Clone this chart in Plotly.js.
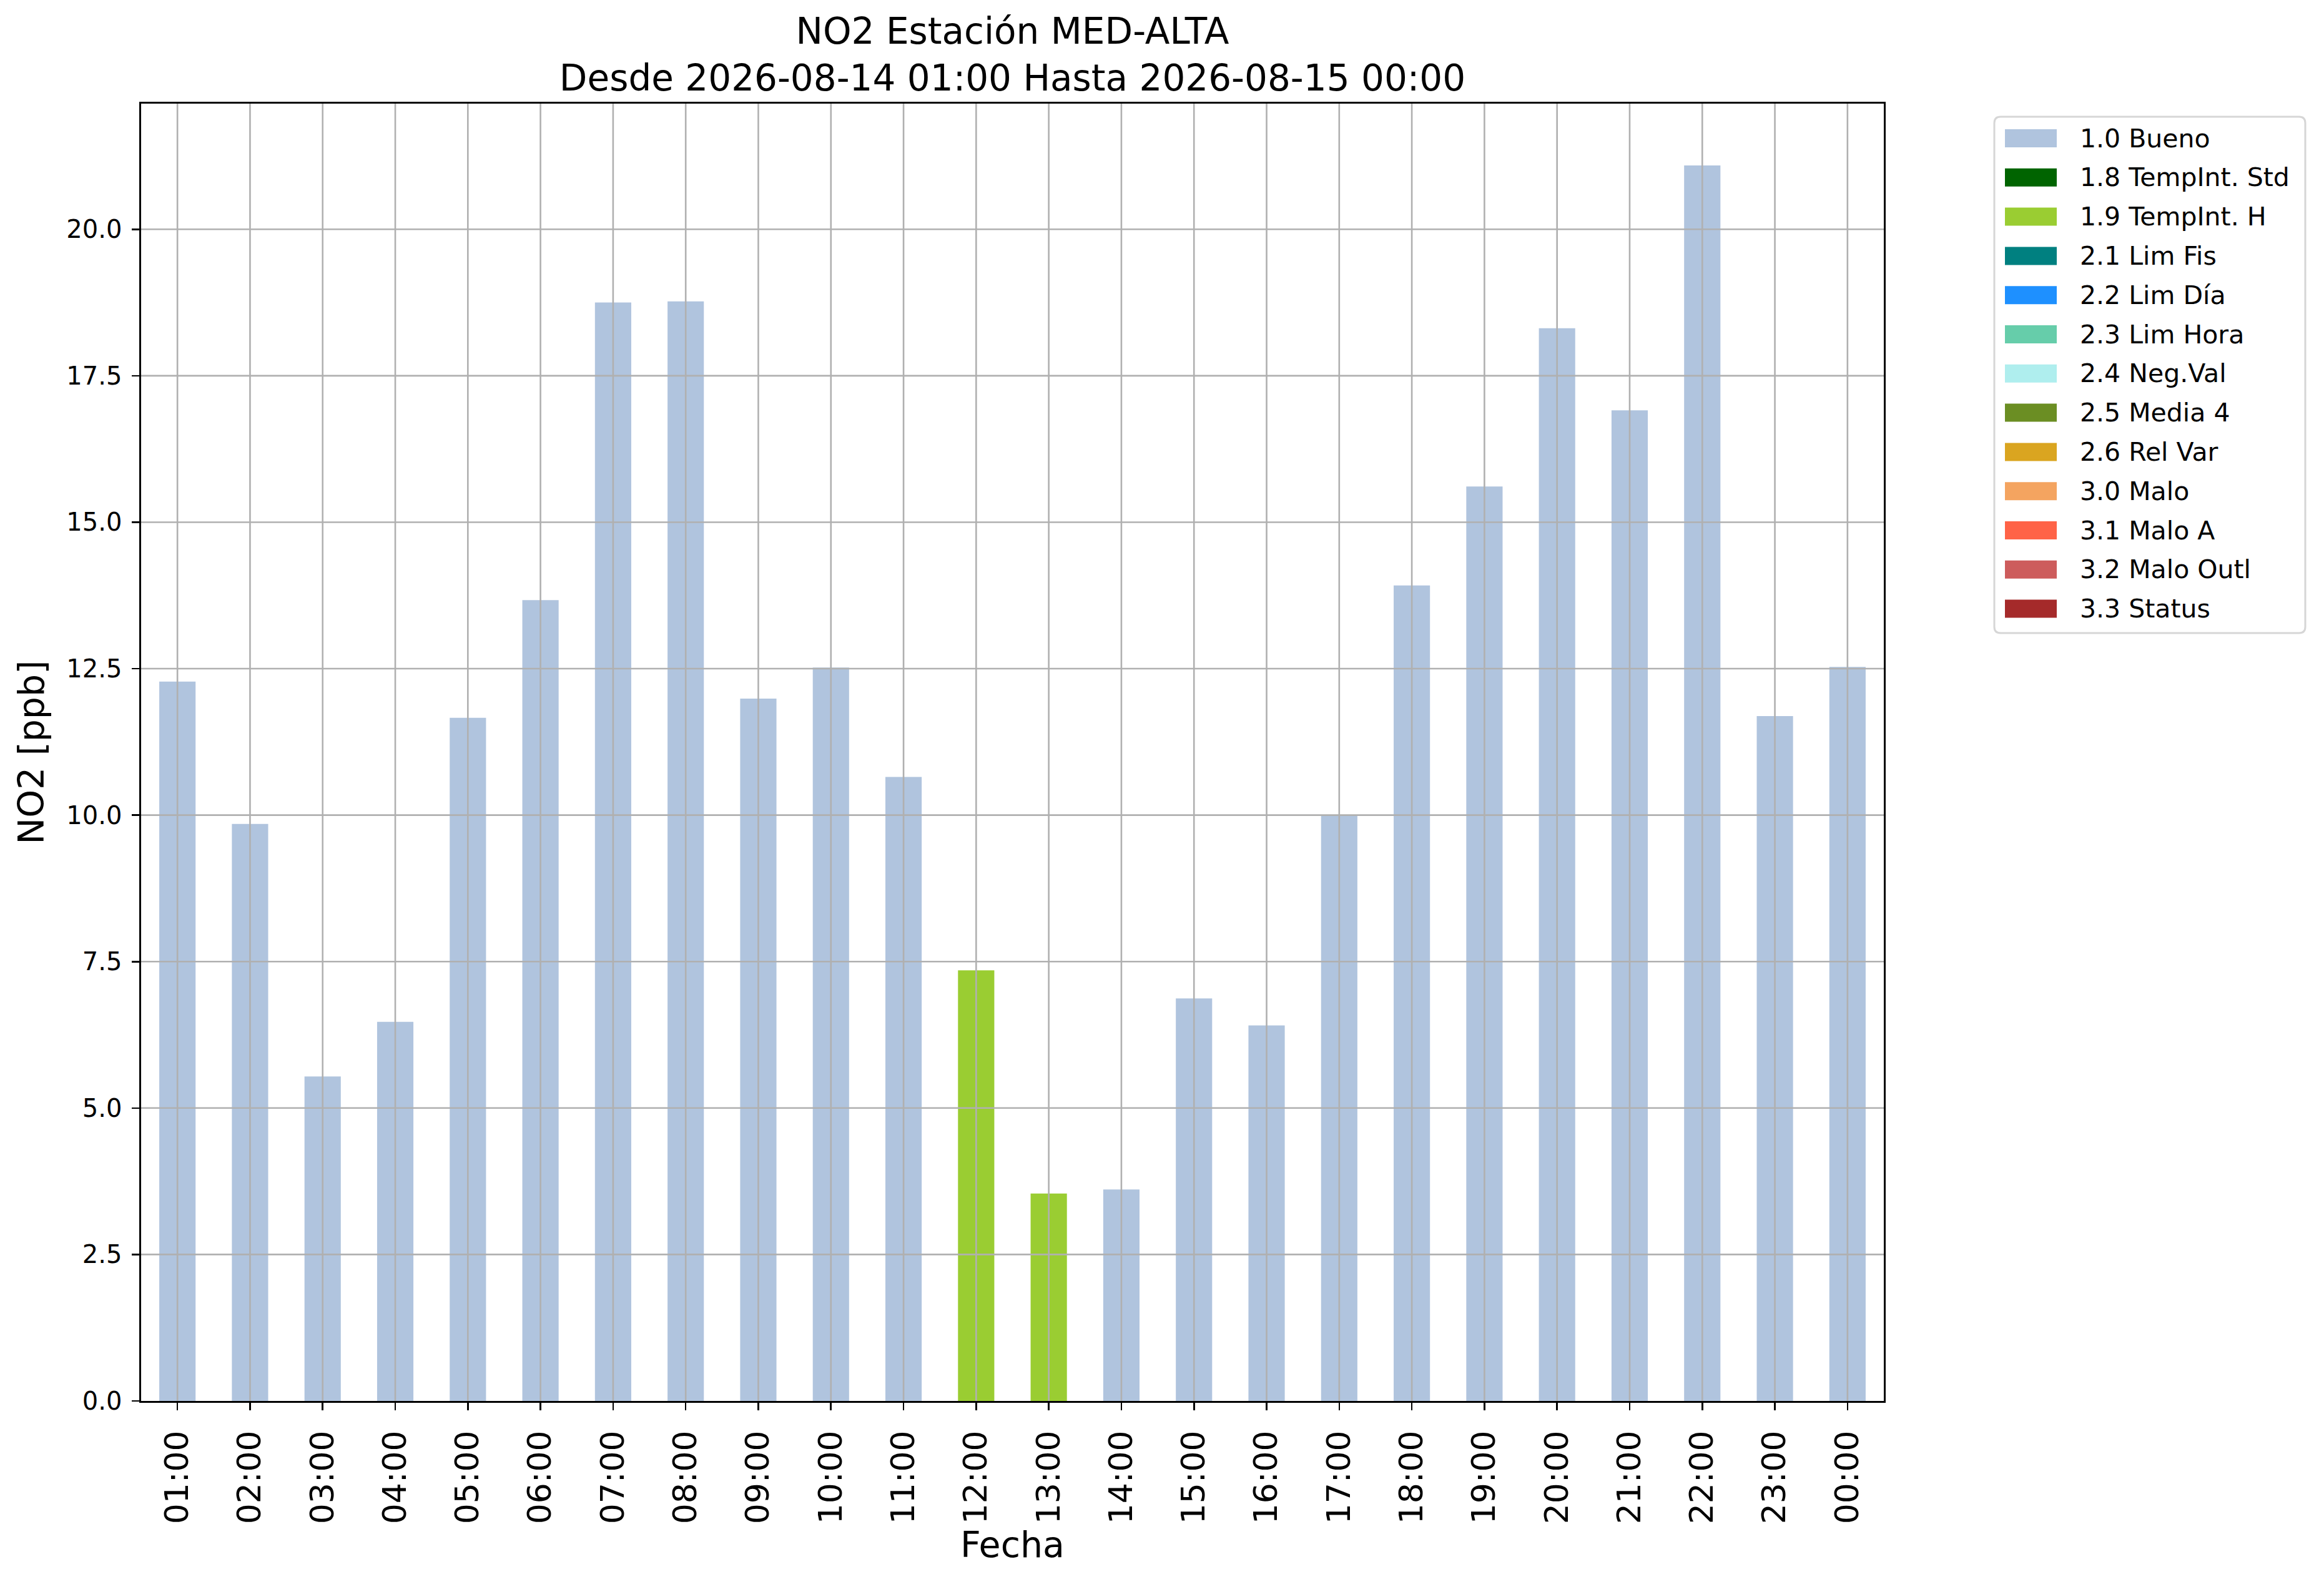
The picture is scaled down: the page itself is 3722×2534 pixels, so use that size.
<!DOCTYPE html>
<html>
<head>
<meta charset="utf-8">
<script src="https://cdn.plot.ly/plotly-3.0.1.min.js"></script>
<style>html,body{margin:0;padding:0;background:#fff;}#chart{width:3722px;height:2534px;}</style>
</head>
<body>
<div id="chart"></div>
<script>
// ---- data ----
const hours = ['01:00','02:00','03:00','04:00','05:00','06:00','07:00','08:00','09:00','10:00','11:00','12:00',
               '13:00','14:00','15:00','16:00','17:00','18:00','19:00','20:00','21:00','22:00','23:00','00:00'];
const no2Values = [12.28, 9.85, 5.54, 6.47, 11.66, 13.67, 18.75, 18.77, 11.99, 12.52, 10.65, 7.35,
                   3.54, 3.61, 6.87, 6.41, 10.00, 13.92, 15.61, 18.31, 16.91, 21.09, 11.69, 12.53];
const hourFlags = ['1.0','1.0','1.0','1.0','1.0','1.0','1.0','1.0','1.0','1.0','1.0','1.9',
                   '1.9','1.0','1.0','1.0','1.0','1.0','1.0','1.0','1.0','1.0','1.0','1.0'];
const flagCodes = ['1.0','1.8','1.9','2.1','2.2','2.3','2.4','2.5','2.6','3.0','3.1','3.2','3.3'];
const flagLabels = ['1.0 Bueno','1.8 TempInt. Std','1.9 TempInt. H','2.1 Lim Fis','2.2 Lim Día','2.3 Lim Hora',
                    '2.4 Neg.Val','2.5 Media 4','2.6 Rel Var','3.0 Malo','3.1 Malo A','3.2 Malo Outl','3.3 Status'];
const flagColors = ['#B0C4DE','#006400','#9ACD32','#008080','#1E90FF','#66CDAA',
                    '#AFEEEE','#6B8E23','#DAA520','#F4A460','#FF6347','#CD5C5C','#A52A2A'];
const yTickVals = [0, 2.5, 5, 7.5, 10, 12.5, 15, 17.5, 20];

// ---- geometry ----
const FIG_W = 3722, FIG_H = 2534;
const M = {l: 226, r: 705, t: 166, b: 290};
const PW = FIG_W - M.l - M.r, PH = FIG_H - M.t - M.b;
const px2x = p => (p - M.l) / PW;
const px2y = p => (FIG_H - M.b - p) / PH;
const FONT = 'DejaVu Sans, Verdana, sans-serif';
const yMax = Math.max(...no2Values) * 1.05;

// ---- traces: one per flag ----
const traces = flagCodes.map((code, i) => ({
  type: 'bar',
  name: flagLabels[i],
  x: hours,
  y: no2Values.map((v, k) => hourFlags[k] === code ? v : null),
  width: 0.5,
  marker: {color: flagColors[i], line: {width: 0}},
  showlegend: false,
  hoverinfo: 'x+y+name'
}));

// ---- gridlines above bars (matplotlib style) ----
const shapes = [];
const gridStyle = {color: '#b0b0b0', width: 2.6};
hours.forEach(h => shapes.push({type: 'line', layer: 'above', xref: 'x', yref: 'paper', x0: h, x1: h, y0: 0, y1: 1, line: gridStyle}));
yTickVals.filter(v => v > 0).forEach(v => shapes.push({type: 'line', layer: 'above', xref: 'paper', yref: 'y', x0: 0, x1: 1, y0: v, y1: v, line: gridStyle}));

// ---- manual legend (matplotlib-like) ----
const annotations = [];
const LEG = {x0: 3194, x1: 3692, y0: 187, y1: 1014, r: 10};
{
  const rx = LEG.r / PW, ry = LEG.r / PH;
  const X0 = px2x(LEG.x0), X1 = px2x(LEG.x1), Y0 = px2y(LEG.y0), Y1 = px2y(LEG.y1);
  const path = `M${X0 + rx},${Y0} L${X1 - rx},${Y0} Q${X1},${Y0} ${X1},${Y0 - ry} L${X1},${Y1 + ry} Q${X1},${Y1} ${X1 - rx},${Y1} ` +
               `L${X0 + rx},${Y1} Q${X0},${Y1} ${X0},${Y1 + ry} L${X0},${Y0 - ry} Q${X0},${Y0} ${X0 + rx},${Y0} Z`;
  shapes.push({type: 'path', xref: 'paper', yref: 'paper', path: path, layer: 'above',
               fillcolor: 'rgba(255,255,255,0.8)', line: {color: '#d6d6d6', width: 3}});
}
flagLabels.forEach((lab, i) => {
  const cy = 221.5 + i * 62.8;
  shapes.push({type: 'rect', xref: 'paper', yref: 'paper', layer: 'above',
               x0: px2x(3211), x1: px2x(3294), y0: px2y(cy - 14.5), y1: px2y(cy + 14.5),
               fillcolor: flagColors[i], line: {width: 0}});
  annotations.push({xref: 'paper', yref: 'paper', x: px2x(3329), y: px2y(cy), xanchor: 'left', yanchor: 'middle',
                    text: lab, showarrow: false, font: {family: FONT, size: 41, color: '#000'}});
});

const layout = {
  width: FIG_W, height: FIG_H,
  margin: M,
  paper_bgcolor: '#fff', plot_bgcolor: '#fff',
  barmode: 'overlay',
  showlegend: false,
  font: {family: FONT, color: '#000'},
  title: {
    text: 'NO2 Estación MED-ALTA<br>Desde 2026-08-14 01:00 Hasta 2026-08-15 00:00',
    font: {family: FONT, size: 58, color: '#000'},
    x: 0.5, xref: 'paper', xanchor: 'center',
    y: 1 - 70 / FIG_H, yref: 'container', yanchor: 'middle'
  },
  xaxis: {
    type: 'category', categoryorder: 'array', categoryarray: hours,
    range: [-0.5, hours.length - 0.5],
    showgrid: false, zeroline: false,
    showline: true, linecolor: '#000', linewidth: 2.6, mirror: true,
    ticks: 'outside', ticklen: 12, tickwidth: 2.6, tickcolor: '#000',
    tickangle: -90, tickfont: {family: FONT, size: 52, color: '#000'},
    ticklabelstandoff: 12,
    title: {text: 'Fecha', font: {family: FONT, size: 57, color: '#000'}, standoff: 10}
  },
  yaxis: {
    range: [0, yMax],
    tickvals: yTickVals, ticktext: yTickVals.map(v => v.toFixed(1)),
    showgrid: false, zeroline: false,
    showline: true, linecolor: '#000', linewidth: 2.6, mirror: true,
    ticks: 'outside', ticklen: 12, tickwidth: 2.6, tickcolor: '#000',
    tickfont: {family: FONT, size: 40, color: '#000'},
    ticklabelstandoff: 8,
    title: {text: 'NO2 [ppb]', font: {family: FONT, size: 57, color: '#000'}, standoff: 18}
  },
  shapes: shapes,
  annotations: annotations
};

Plotly.newPlot('chart', traces, layout, {staticPlot: true, displayModeBar: false});
</script>
</body>
</html>
